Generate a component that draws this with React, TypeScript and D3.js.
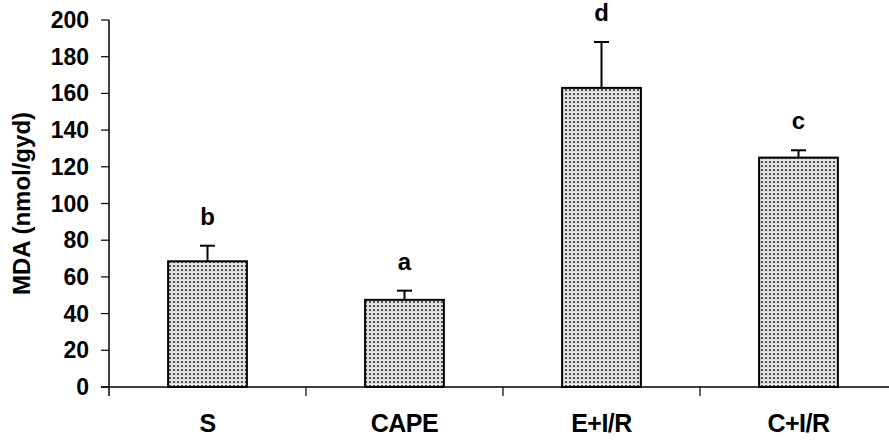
import React from "react";
import * as d3 from "d3";

const categories = ["S", "CAPE", "E+I/R", "C+I/R"];
const means = [68.5, 47.5, 163, 125];
const errors = [8.5, 5, 25, 4];
const letters = ["b", "a", "d", "c"];
const yTicks = [0, 20, 40, 60, 80, 100, 120, 140, 160, 180, 200];

const W = 889;
const H = 441;

export default function App() {
  const y = d3.scaleLinear().domain([0, 200]).range([387, 20]);
  const x = d3.scaleBand<string>().domain(categories).range([109, 897]).padding(0);
  const bw = x.bandwidth() * 0.4;
  const font = "'Liberation Sans', Arial, sans-serif";
  const boundaries = categories.map((c) => x(c) as number);

  return (
    <svg
      width={W}
      height={H}
      style={{ position: "fixed", left: 0, top: 0, background: "#fff" }}
      fontFamily={font}
    >
      <defs>
        <pattern id="dots" width="4" height="4" patternUnits="userSpaceOnUse">
          <rect width="4" height="4" fill="#dcdcdc" />
          <rect x="1" y="1" width="2" height="2" fill="#555" />
          <rect x="0" y="0" width="4" height="0.6" fill="#f4f4f4" />
        </pattern>
      </defs>

      {/* Bars */}
      {categories.map((c, i) => {
        const cx = (x(c) as number) + x.bandwidth() / 2;
        const top = y(means[i]);
        const errTop = y(means[i] + errors[i]);
        return (
          <g key={c}>
            <line x1={cx} x2={cx} y1={top} y2={errTop} stroke="#000" strokeWidth={2} />
            <line x1={cx - 7.5} x2={cx + 7.5} y1={errTop} y2={errTop} stroke="#000" strokeWidth={2} />
            <rect
              x={cx - bw / 2}
              y={top}
              width={bw}
              height={y(0) - top}
              fill="url(#dots)"
              stroke="#000"
              strokeWidth={2}
            />
            <text
              x={cx}
              y={errTop - 21}
              textAnchor="middle"
              fontWeight="bold"
              fontSize={24}
            >
              {letters[i]}
            </text>
            <text
              x={cx}
              y={432}
              textAnchor="middle"
              fontWeight="bold"
              fontSize={25}
              letterSpacing={-0.5}
            >
              {c}
            </text>
          </g>
        );
      })}

      {/* Y axis */}
      <line x1={109} x2={109} y1={y(200)} y2={396} stroke="#000" strokeWidth={1.5} />
      {yTicks.map((t) => (
        <g key={t}>
          <line x1={101} x2={109} y1={y(t)} y2={y(t)} stroke="#000" strokeWidth={1.2} />
          <text
            x={89}
            y={y(t)}
            dy="0.35em"
            textAnchor="end"
            fontWeight="bold"
            fontSize={23}
          >
            {t}
          </text>
        </g>
      ))}

      {/* X axis */}
      <line x1={101} x2={889} y1={y(0)} y2={y(0)} stroke="#000" strokeWidth={1.5} />
      {boundaries.slice(1).map((b) => (
        <line key={b} x1={b} x2={b} y1={y(0)} y2={396} stroke="#000" strokeWidth={1.2} />
      ))}

      <text
        transform={`translate(30, ${(y(0) + y(200)) / 2}) rotate(-90)`}
        textAnchor="middle"
        fontWeight="bold"
        fontSize={24}
      >
        MDA (nmol/gyd)
      </text>
    </svg>
  );
}
